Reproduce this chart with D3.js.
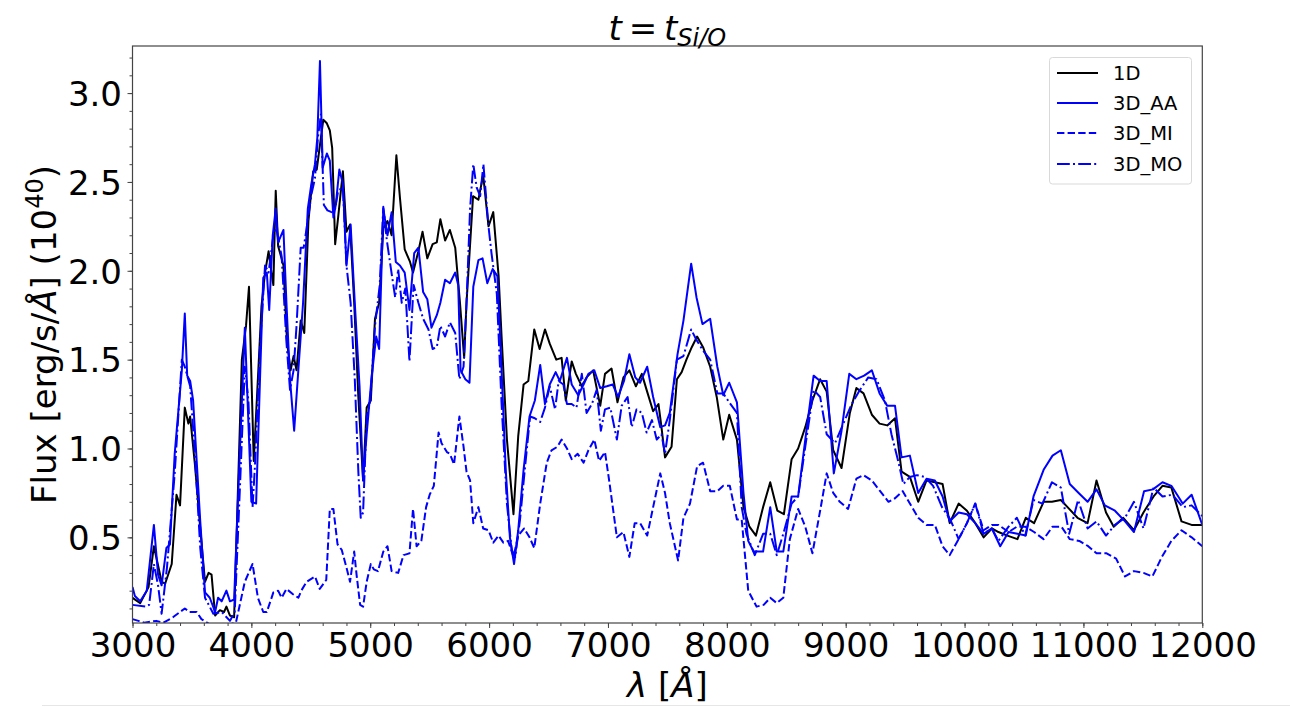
<!DOCTYPE html>
<html>
<head>
<meta charset="utf-8">
<script src="https://cdn.jsdelivr.net/npm/d3@7"></script>
<style>
  html, body { margin: 0; padding: 0; background: #fff; }
  svg { display: block; font-family: "DejaVu Sans", sans-serif; }
</style>
</head>
<body>
<svg id="chart" width="1290" height="707"></svg>
<script>
// Spectra at t = t_Si/O : wavelength (Angstrom) and flux (10^40 erg/s/A)
const wave1D = [3000,3065,3135,3180,3245,3275,3330,3370,3400,3440,3470,3485,3525,3570,3610,3640,3665,3695,3735,3770,3790,3820,3855,3920,3955,3980,4020,4060,4085,4115,4145,4160,4185,4205,4225,4270,4300,4330,4355,4380,4415,4445,4480,4520,4550,4605,4635,4660,4680,4705,4730,4770,4800,4830,4865,4900,4940,4970,5005,5040,5075,5110,5145,5180,5220,5250,5290,5335,5360,5405,5440,5480,5525,5560,5590,5630,5670,5715,5755,5790,5810,5865,5910,5950,5995,6035,6080,6105,6150,6205,6245,6290,6330,6380,6425,6470,6510,6565,6610,6645,6695,6730,6780,6820,6875,6935,6975,7030,7080,7130,7180,7235,7285,7325,7380,7425,7450,7480,7535,7580,7620,7660,7705,7750,7800,7860,7915,7970,8020,8085,8140,8190,8245,8305,8365,8425,8480,8545,8600,8660,8720,8785,8840,8895,8965,9035,9090,9150,9220,9285,9350,9415,9470,9540,9610,9680,9750,9815,9875,9950,10020,10090,10160,10230,10285,10360,10445,10515,10585,10665,10735,10810,10880,10950,11035,11110,11190,11255,11335,11425,11505,11590,11665,11740,11825,11910,12000];
const flux1D = [0.16,0.13,0.22,0.45,0.25,0.24,0.35,0.74,0.68,1.23,1.14,1.18,0.91,0.55,0.25,0.30,0.29,0.06,0.09,0.08,0.11,0.06,0.05,1.50,1.69,1.91,0.93,1.46,1.80,1.99,2.11,2.03,1.92,2.45,2.14,2.03,1.60,1.44,1.52,1.44,1.72,1.65,2.28,2.56,2.57,2.85,2.83,2.79,2.69,2.15,2.30,2.56,2.22,2.26,1.82,1.29,0.82,1.23,1.27,1.73,1.82,2.24,2.28,2.20,2.65,2.41,2.12,2.05,1.99,2.11,2.22,2.07,2.15,2.16,2.29,2.17,2.23,2.13,1.82,1.51,1.82,2.42,2.40,2.54,2.25,2.33,1.97,1.63,1.05,0.63,1.07,1.36,1.38,1.67,1.56,1.67,1.59,1.50,1.51,1.27,1.49,1.42,1.35,1.40,1.44,1.24,1.42,1.45,1.26,1.40,1.44,1.35,1.42,1.33,1.21,1.25,1.12,0.95,1.01,1.39,1.43,1.50,1.57,1.63,1.57,1.46,1.29,1.05,1.19,1.05,0.67,0.56,0.51,0.67,0.81,0.65,0.63,0.94,1.00,1.12,1.27,1.39,1.32,0.99,0.89,1.20,1.34,1.31,1.19,1.14,1.13,1.17,0.87,0.84,0.70,0.82,0.81,0.80,0.58,0.69,0.65,0.58,0.50,0.55,0.53,0.51,0.49,0.61,0.58,0.70,0.70,0.71,0.66,0.61,0.58,0.82,0.64,0.56,0.61,0.54,0.64,0.73,0.79,0.78,0.59,0.57,0.57];

const waveAA = [3000,3020,3065,3120,3180,3215,3245,3285,3315,3355,3415,3440,3460,3485,3510,3540,3570,3610,3650,3695,3720,3750,3790,3820,3855,3890,3945,4000,4040,4075,4100,4130,4150,4180,4205,4225,4270,4295,4325,4360,4395,4435,4475,4505,4535,4555,4577,4600,4635,4660,4690,4710,4740,4770,4800,4835,4870,4910,4940,4970,5010,5050,5075,5110,5145,5180,5215,5250,5290,5330,5370,5405,5445,5480,5515,5560,5590,5630,5670,5715,5740,5760,5800,5835,5867,5910,5945,5985,6030,6070,6105,6140,6175,6210,6245,6290,6340,6385,6430,6470,6510,6560,6595,6655,6695,6750,6795,6835,6885,6935,6990,7040,7085,7135,7180,7230,7270,7330,7380,7440,7480,7520,7585,7635,7700,7745,7795,7860,7920,7970,8020,8085,8140,8180,8225,8305,8365,8420,8475,8545,8600,8660,8730,8785,8840,8900,8965,9030,9090,9155,9220,9285,9350,9415,9470,9540,9610,9680,9750,9815,9875,9950,10020,10090,10160,10230,10300,10370,10445,10515,10580,10665,10740,10810,10885,10960,11035,11110,11180,11265,11350,11425,11510,11585,11665,11740,11835,11910,12000];
const fluxAA = [0.22,0.17,0.14,0.20,0.57,0.29,0.23,0.44,0.46,0.97,1.44,1.76,1.41,1.38,1.27,0.93,0.59,0.19,0.16,0.08,0.16,0.14,0.20,0.14,0.15,0.76,1.68,0.70,0.69,1.44,1.96,1.99,1.78,2.20,2.35,2.16,2.23,1.82,1.39,1.10,1.44,1.82,2.35,2.49,2.60,2.75,3.18,2.58,2.66,2.62,2.30,2.37,2.57,2.49,2.03,2.26,1.82,1.35,0.82,1.08,1.39,1.63,1.56,2.35,2.20,2.33,2.05,2.03,1.99,1.78,2.10,2.13,1.88,1.84,1.68,1.75,1.82,1.95,1.93,1.99,1.92,1.44,1.39,1.37,1.91,2.06,2.07,1.93,2.01,1.97,1.44,0.88,0.50,0.35,0.54,0.88,1.18,1.27,1.47,1.25,1.36,1.43,1.38,1.51,1.36,1.30,1.36,1.42,1.44,1.34,1.35,1.36,1.29,1.38,1.53,1.40,1.37,1.46,1.29,1.12,1.13,1.20,1.53,1.72,2.04,1.85,1.70,1.73,1.46,1.30,1.37,1.26,0.75,0.48,0.42,0.42,0.67,0.42,0.42,0.73,0.73,1.05,1.41,1.38,1.38,0.86,1.10,1.42,1.39,1.41,1.44,1.31,1.24,1.24,0.95,0.96,0.75,0.83,0.82,0.73,0.59,0.64,0.63,0.58,0.52,0.55,0.45,0.53,0.52,0.51,0.73,0.88,0.96,0.99,0.80,0.75,0.70,0.77,0.68,0.65,0.59,0.53,0.76,0.77,0.81,0.79,0.69,0.74,0.57];

const waveMI = [3000,3050,3100,3200,3260,3340,3440,3480,3540,3580,3650,3760,3870,3945,4010,4055,4100,4130,4185,4225,4255,4295,4350,4395,4420,4465,4535,4575,4630,4660,4690,4725,4760,4800,4830,4865,4885,4915,4940,4970,5005,5030,5065,5110,5145,5180,5235,5280,5330,5360,5390,5430,5470,5500,5535,5575,5600,5645,5670,5705,5750,5785,5810,5840,5867,5910,5950,5995,6035,6080,6120,6160,6205,6245,6295,6340,6380,6430,6485,6525,6575,6610,6655,6695,6745,6795,6835,6885,6925,6975,7010,7075,7130,7180,7225,7270,7330,7380,7440,7480,7520,7590,7635,7690,7750,7800,7860,7920,7970,8025,8085,8125,8180,8250,8310,8365,8420,8475,8530,8600,8660,8720,8785,8840,8895,8950,9020,9090,9150,9220,9290,9360,9415,9480,9540,9610,9680,9750,9815,9875,9950,10020,10090,10160,10230,10285,10370,10440,10510,10585,10665,10740,10815,10885,10965,11040,11110,11195,11275,11350,11425,11505,11580,11660,11740,11825,11910,12000];
const fluxMI = [0.04,0.03,0.02,0.03,0.02,0.05,0.10,0.08,0.08,0.04,0.01,0.00,0.02,0.25,0.35,0.16,0.08,0.08,0.19,0.20,0.16,0.21,0.18,0.16,0.20,0.25,0.28,0.21,0.26,0.66,0.66,0.46,0.43,0.33,0.25,0.42,0.29,0.12,0.11,0.25,0.35,0.32,0.31,0.42,0.45,0.31,0.30,0.40,0.41,0.66,0.45,0.48,0.67,0.74,0.79,1.09,1.03,0.98,0.97,0.91,1.18,1.01,0.87,0.82,0.58,0.67,0.55,0.54,0.47,0.51,0.47,0.48,0.39,0.51,0.55,0.50,0.44,0.69,0.92,0.99,1.01,1.05,1.00,0.94,0.97,0.92,0.99,1.05,0.93,0.98,0.82,0.50,0.53,0.39,0.58,0.58,0.51,0.67,0.86,0.75,0.58,0.37,0.61,0.69,0.90,0.92,0.76,0.76,0.79,0.79,0.60,0.60,0.20,0.11,0.12,0.16,0.13,0.16,0.49,0.66,0.56,0.41,0.65,0.86,0.75,0.70,0.66,0.83,0.85,0.82,0.76,0.70,0.72,0.76,0.69,0.61,0.57,0.57,0.45,0.40,0.49,0.58,0.69,0.54,0.57,0.57,0.53,0.56,0.56,0.53,0.49,0.56,0.56,0.49,0.48,0.45,0.41,0.41,0.38,0.28,0.31,0.30,0.28,0.39,0.48,0.54,0.50,0.45];

const waveMO = [3000,3110,3140,3180,3215,3245,3290,3355,3415,3440,3485,3525,3570,3610,3680,3750,3820,3860,3905,3945,3975,4010,4030,4075,4115,4145,4185,4210,4255,4295,4325,4355,4380,4415,4440,4465,4505,4535,4560,4585,4610,4640,4675,4705,4730,4770,4800,4835,4870,4900,4920,4940,4970,5000,5040,5080,5110,5140,5170,5210,5235,5265,5295,5330,5365,5405,5445,5490,5525,5560,5590,5630,5670,5715,5750,5785,5810,5840,5867,5895,5925,5952,5995,6020,6065,6105,6150,6190,6220,6260,6300,6345,6385,6430,6470,6510,6555,6585,6625,6655,6695,6735,6780,6820,6865,6905,6940,6975,7020,7075,7115,7165,7200,7240,7285,7325,7370,7410,7450,7480,7520,7580,7635,7700,7745,7800,7860,7920,7970,8020,8085,8125,8165,8235,8305,8365,8420,8475,8545,8600,8660,8730,8785,8840,8910,8980,9050,9120,9190,9260,9330,9385,9445,9485,9540,9600,9665,9735,9810,9880,9950,10020,10090,10160,10230,10285,10370,10440,10510,10580,10655,10735,10810,10880,10955,11035,11110,11190,11265,11350,11425,11505,11590,11665,11750,11835,11910,12000];
const fluxMO = [0.12,0.11,0.12,0.35,0.23,0.07,0.33,0.86,1.50,1.46,1.35,0.97,0.44,0.16,0.07,0.08,0.03,0.08,0.80,1.46,1.27,0.67,0.90,1.60,2.03,1.99,2.20,2.24,2.08,1.60,1.33,1.44,1.69,2.13,2.13,2.24,2.43,2.52,2.75,2.88,2.37,2.34,2.33,2.35,2.45,2.47,2.03,1.82,1.39,0.87,0.61,0.64,1.18,1.27,1.69,1.92,2.36,2.17,2.03,1.85,2.01,1.82,1.90,1.49,1.92,1.82,1.73,1.67,1.56,1.57,1.69,1.63,1.71,1.65,1.39,1.46,1.82,2.35,2.60,2.47,2.42,2.60,2.25,2.10,1.87,1.25,0.69,0.43,0.39,0.60,0.88,1.18,1.17,1.15,1.23,1.35,1.22,1.38,1.36,1.25,1.25,1.23,1.42,1.20,1.25,1.33,1.10,1.22,1.23,1.05,1.24,1.29,1.12,1.22,1.20,1.09,1.16,1.05,1.08,0.97,1.16,1.50,1.52,1.67,1.61,1.55,1.50,1.31,1.31,1.26,1.20,0.67,0.52,0.40,0.52,0.52,0.40,0.52,0.69,0.73,1.01,1.33,1.29,1.08,1.03,1.14,1.25,1.33,1.40,1.39,1.27,1.08,0.92,0.80,0.84,0.85,0.84,0.79,0.67,0.60,0.49,0.58,0.69,0.52,0.55,0.48,0.56,0.61,0.51,0.71,0.69,0.81,0.78,0.52,0.71,0.55,0.59,0.51,0.57,0.61,0.70,0.55,0.78,0.73,0.74,0.67,0.68,0.62];

const seriesNames = ["1D", "3D_AA", "3D_MI", "3D_MO"];
const xTicks = [3000,4000,5000,6000,7000,8000,9000,10000,11000,12000];
const yTicks = [0.5,1.0,1.5,2.0,2.5,3.0];

const series = [
  { name: seriesNames[0], wave: wave1D, flux: flux1D, color: "#000000", dash: null },
  { name: seriesNames[1], wave: waveAA, flux: fluxAA, color: "#0000ff", dash: null },
  { name: seriesNames[2], wave: waveMI, flux: fluxMI, color: "#0000ff", dash: "7.4,3.2" },
  { name: seriesNames[3], wave: waveMO, flux: fluxMO, color: "#0000ff", dash: "12.8,3.2,2,3.2" }
];

const svg = d3.select("#chart");
const L = 132.5, R = 1202.3, T = 46, B = 623;
const x = d3.scaleLinear().domain([3000, 12000]).range([L, R]);
const y = d3.scaleLinear().domain([0.018, 3.265]).range([B, T]);
const FS = 34;

svg.append("defs").append("clipPath").attr("id", "plotclip")
  .append("rect").attr("x", L).attr("y", T).attr("width", R - L).attr("height", B - T);

// faint rule along the bottom edge of the figure
svg.append("line").attr("x1", 42).attr("x2", 1290).attr("y1", 705.5).attr("y2", 705.5)
  .attr("stroke", "#e6e6e6").attr("stroke-width", 1);

// spectra
const line = d3.line().x(d => x(d[0])).y(d => y(d[1]));
const plot = svg.append("g").attr("clip-path", "url(#plotclip)");
series.forEach(s => {
  plot.append("path")
    .datum(s.wave.map((w, i) => [w, s.flux[i]]))
    .attr("d", line)
    .attr("fill", "none")
    .attr("stroke", s.color)
    .attr("stroke-width", 2)
    .attr("stroke-linejoin", "round")
    .attr("stroke-dasharray", s.dash);
});

// axes
const axColor = "#444";
const xMinor = svg.append("g").attr("transform", `translate(0,${B})`)
  .call(d3.axisBottom(x).tickValues(d3.range(3000, 12001, 200)).tickSize(3).tickFormat(""));
const xMajor = svg.append("g").attr("transform", `translate(0,${B})`)
  .call(d3.axisBottom(x).tickValues(xTicks).tickSize(5).tickFormat(d3.format("d")));
const yMinor = svg.append("g").attr("transform", `translate(${L},0)`)
  .call(d3.axisLeft(y).tickValues(d3.range(1, 33).map(v => v / 10)).tickSize(3).tickFormat(""));
const yMajor = svg.append("g").attr("transform", `translate(${L},0)`)
  .call(d3.axisLeft(y).tickValues(yTicks).tickSize(5).tickFormat(d3.format(".1f")));

[xMinor, xMajor, yMinor, yMajor].forEach(g => {
  g.select(".domain").remove();
  g.selectAll(".tick line").attr("stroke", axColor).attr("stroke-width", 1);
  g.selectAll("text").attr("font-family", "DejaVu Sans").attr("font-size", FS).attr("fill", "#000");
});
xMajor.selectAll(".tick text").attr("y", 34).attr("dy", null);
yMajor.selectAll(".tick text").attr("x", -10.5).attr("dy", "0.36em");

// frame
svg.append("rect").attr("x", L).attr("y", T).attr("width", R - L).attr("height", B - T)
  .attr("fill", "none").attr("stroke", axColor).attr("stroke-width", 1.2);

// title t = t_{Si/O}
const title = svg.append("text").attr("x", (L + R) / 2).attr("y", 40)
  .attr("text-anchor", "middle").attr("font-size", FS).attr("fill", "#000");
title.append("tspan").attr("font-style", "italic").text("t");
title.append("tspan").text("\u2009=\u2009");
title.append("tspan").attr("font-style", "italic").text("t");
title.append("tspan").attr("font-style", "italic").attr("font-size", 24).attr("dy", 6).text("Si/O");

// x label
const xl = svg.append("text").attr("x", (L + R) / 2).attr("y", 697)
  .attr("text-anchor", "middle").attr("font-size", FS).attr("fill", "#000");
xl.append("tspan").attr("font-style", "italic").text("\u03bb");
xl.append("tspan").text(" [");
xl.append("tspan").attr("font-style", "italic").text("\u00c5");
xl.append("tspan").text("]");

// y label
const yl = svg.append("text").attr("transform", `translate(56,${(T + B) / 2}) rotate(-90)`)
  .attr("text-anchor", "middle").attr("font-size", FS).attr("fill", "#000");
yl.append("tspan").text("Flux [erg/s/");
yl.append("tspan").attr("font-style", "italic").text("\u00c5");
yl.append("tspan").text("] (10");
yl.append("tspan").attr("font-size", 24).attr("dy", -13).text("40");
yl.append("tspan").attr("dy", 13).text(")");

// legend
const lg = svg.append("g");
lg.append("rect").attr("x", 1049.5).attr("y", 57.5).attr("width", 142).attr("height", 126.5)
  .attr("rx", 3).attr("fill", "#fff").attr("fill-opacity", 0.8)
  .attr("stroke", "#d9d9d9").attr("stroke-width", 1);
const rowY = [73, 103, 133, 164];
series.forEach((s, i) => {
  lg.append("line").attr("x1", 1057).attr("x2", 1098).attr("y1", rowY[i]).attr("y2", rowY[i])
    .attr("stroke", s.color).attr("stroke-width", 2).attr("stroke-dasharray", s.dash);
  lg.append("text").attr("x", 1113).attr("y", rowY[i]).attr("dy", "0.36em")
    .attr("font-size", 19.5).attr("fill", "#000").text(s.name);
});
</script>
</body>
</html>
